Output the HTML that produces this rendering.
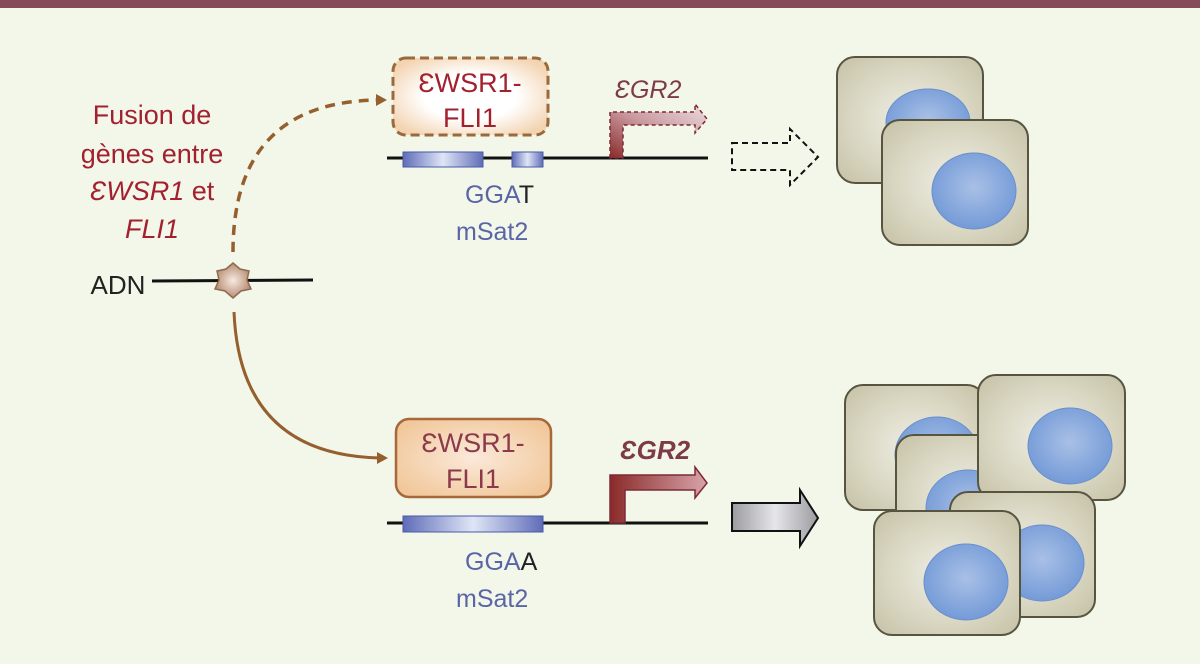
<!DOCTYPE html>
<html><head><meta charset="utf-8"><style>
html,body{margin:0;padding:0;background:#f2f7ea;}
svg{display:block;}
text{font-family:"Liberation Sans",sans-serif;}
</style></head><body>
<svg width="1200" height="664" viewBox="0 0 1200 664" xmlns="http://www.w3.org/2000/svg">
<defs>
<radialGradient id="cell" cx="0.5" cy="0.5" r="0.65">
<stop offset="0" stop-color="#efeee4"/><stop offset="0.6" stop-color="#dad7c3"/><stop offset="1" stop-color="#c9c5ab"/></radialGradient>
<radialGradient id="nuc" cx="0.5" cy="0.45" r="0.6">
<stop offset="0" stop-color="#a9c0e6"/><stop offset="1" stop-color="#6f97d6"/></radialGradient>
<linearGradient id="bar" x1="0" x2="1"><stop offset="0" stop-color="#5f6db8"/><stop offset="0.5" stop-color="#dfe5f6"/><stop offset="1" stop-color="#5f6db8"/></linearGradient>
<radialGradient id="box1" cx="0.5" cy="0.5" r="0.6"><stop offset="0.5" stop-color="#ffffff"/><stop offset="1" stop-color="#f3d4b2"/></radialGradient>
<radialGradient id="box2" cx="0.5" cy="0.5" r="0.6"><stop offset="0" stop-color="#fbe9da"/><stop offset="1" stop-color="#f1c89b"/></radialGradient>
<linearGradient id="prom1" x1="0" y1="1" x2="1" y2="0"><stop offset="0" stop-color="#8a2a2a"/><stop offset="0.5" stop-color="#c99aa0"/><stop offset="1" stop-color="#ecdcdf"/></linearGradient>
<linearGradient id="prom2" x1="0" x2="1"><stop offset="0" stop-color="#8a2a2a"/><stop offset="1" stop-color="#d7a4a9"/></linearGradient>
<linearGradient id="gray" x1="0" x2="1"><stop offset="0" stop-color="#9b9ba0"/><stop offset="0.5" stop-color="#e6e6ea"/><stop offset="1" stop-color="#9b9ba0"/></linearGradient>
<radialGradient id="star" cx="0.5" cy="0.5" r="0.5"><stop offset="0" stop-color="#f7e9e1"/><stop offset="1" stop-color="#b78e74"/></radialGradient>
</defs>
<rect x="0" y="0" width="1200" height="8" fill="#864b59"/>

<g fill="#a3202f" font-size="27" text-anchor="middle">
<text x="152" y="124">Fusion de</text>
<text x="152" y="163">gènes entre</text>
<text x="152" y="200"><tspan font-style="italic">ƐWSR1</tspan> et</text>
<text x="152" y="238" font-style="italic">FLI1</text>
</g>
<text x="118" y="294" font-size="26" fill="#222" text-anchor="middle">ADN</text>
<line x1="152" y1="281" x2="313" y2="280" stroke="#111" stroke-width="3"/>
<g transform="translate(233,281)">
<polygon points="0,-18 7,-12 16,-10 14,-1 18,8 8,10 0,17 -8,10 -18,8 -14,-1 -16,-10 -7,-12" fill="url(#star)" stroke="#8f6a4f" stroke-width="1.5"/>
</g>

<path d="M233,252 Q233,102 378,100" fill="none" stroke="#96602e" stroke-width="3.5" stroke-dasharray="10,7"/>
<polygon points="376,94 387,100 376,106" fill="#96602e"/>
<path d="M234,312 Q240,455 380,458" fill="none" stroke="#96602e" stroke-width="3"/>
<polygon points="377,452 388,458 377,464" fill="#96602e"/>

<rect x="393" y="58" width="155" height="77" rx="13" fill="url(#box1)" stroke="#9b6a3c" stroke-width="3" stroke-dasharray="9,5"/>
<g fill="#a3202f" font-size="27" text-anchor="middle"><text x="470" y="92">ƐWSR1-</text><text x="470" y="127">FLI1</text></g>
<line x1="387" y1="158" x2="708" y2="158" stroke="#111" stroke-width="3"/>
<rect x="403" y="152" width="80" height="15" fill="url(#bar)" stroke="#4b5aa8" stroke-width="1"/>
<rect x="512" y="152" width="31" height="15" fill="url(#bar)" stroke="#4b5aa8" stroke-width="1"/>
<path d="M610,158 V112 H695 V104 L707,119 L695,133 V125 H623 V158 Z" fill="url(#prom1)" stroke="#7d2a35" stroke-width="1.5" stroke-dasharray="4,3"/>
<text x="648" y="98" font-size="25" font-style="italic" fill="#7d3a47" text-anchor="middle">ƐGR2</text>
<text x="465" y="203" font-size="25" fill="#5a65a6">GGA<tspan fill="#222">T</tspan></text>
<text x="456" y="240" font-size="25" fill="#5a65a6">mSat2</text>

<path d="M732,143 H790 V129 L818,157 L790,185 V170 H732 Z" fill="none" stroke="#111" stroke-width="2" stroke-dasharray="6,4"/>

<rect x="837" y="57" width="146" height="126" rx="18" fill="url(#cell)" stroke="#57553f" stroke-width="2"/>
<ellipse cx="928" cy="122" rx="42" ry="33" fill="url(#nuc)" stroke="#6a8fcc" stroke-width="1"/>
<rect x="882" y="120" width="146" height="125" rx="18" fill="url(#cell)" stroke="#57553f" stroke-width="2"/>
<ellipse cx="974" cy="191" rx="42" ry="38" fill="url(#nuc)" stroke="#6a8fcc" stroke-width="1"/>

<rect x="396" y="419" width="155" height="78" rx="13" fill="url(#box2)" stroke="#a7683a" stroke-width="2.5"/>
<g fill="#8a3a4a" font-size="27" text-anchor="middle"><text x="473" y="452">ƐWSR1-</text><text x="473" y="488">FLI1</text></g>
<line x1="387" y1="523" x2="708" y2="523" stroke="#111" stroke-width="3"/>
<rect x="403" y="516" width="140" height="16" fill="url(#bar)" stroke="#4b5aa8" stroke-width="1"/>
<path d="M610,523 V475 H695 V467 L707,483 L695,498 V490 H625 V523 Z" fill="url(#prom2)" stroke="#7d2a35" stroke-width="1.5"/>
<text x="655" y="459" font-size="26" font-weight="bold" font-style="italic" fill="#7d3a47" text-anchor="middle">ƐGR2</text>
<text x="465" y="570" font-size="25" fill="#5a65a6">GGA<tspan fill="#222">A</tspan></text>
<text x="456" y="607" font-size="25" fill="#5a65a6">mSat2</text>

<path d="M732,503 H800 V490 L818,518 L800,546 V531 H732 Z" fill="url(#gray)" stroke="#111" stroke-width="2"/>

<rect x="845" y="385" width="140" height="125" rx="18" fill="url(#cell)" stroke="#57553f" stroke-width="2"/>
<ellipse cx="937" cy="455" rx="42" ry="38" fill="url(#nuc)" stroke="#6a8fcc" stroke-width="1"/>
<rect x="896" y="435" width="140" height="125" rx="18" fill="url(#cell)" stroke="#57553f" stroke-width="2"/>
<ellipse cx="968" cy="508" rx="42" ry="38" fill="url(#nuc)" stroke="#6a8fcc" stroke-width="1"/>
<rect x="978" y="375" width="147" height="125" rx="18" fill="url(#cell)" stroke="#57553f" stroke-width="2"/>
<ellipse cx="1070" cy="446" rx="42" ry="38" fill="url(#nuc)" stroke="#6a8fcc" stroke-width="1"/>
<rect x="950" y="492" width="145" height="125" rx="18" fill="url(#cell)" stroke="#57553f" stroke-width="2"/>
<ellipse cx="1042" cy="563" rx="42" ry="38" fill="url(#nuc)" stroke="#6a8fcc" stroke-width="1"/>
<rect x="874" y="511" width="146" height="124" rx="18" fill="url(#cell)" stroke="#57553f" stroke-width="2"/>
<ellipse cx="966" cy="582" rx="42" ry="38" fill="url(#nuc)" stroke="#6a8fcc" stroke-width="1"/>
</svg>
</body></html>
